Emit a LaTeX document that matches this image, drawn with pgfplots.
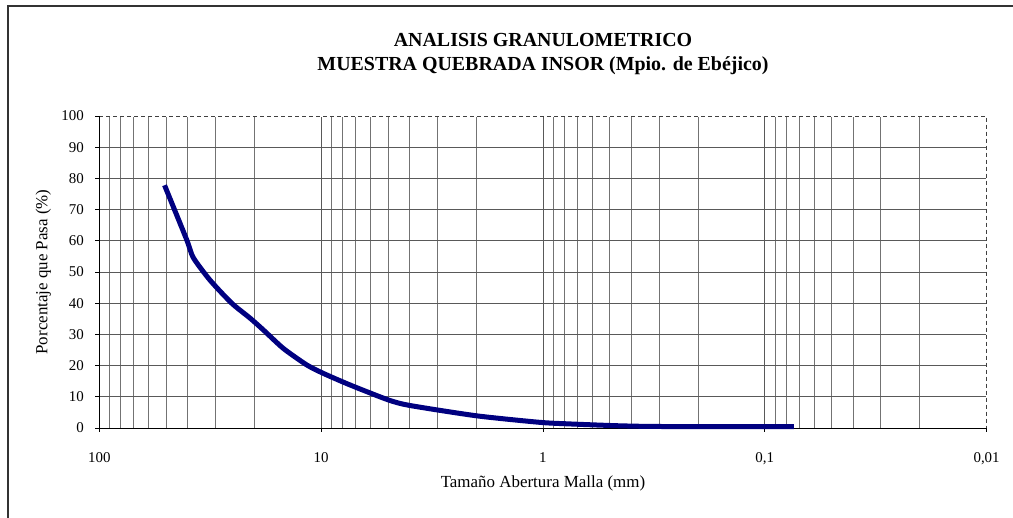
\documentclass[border=0pt]{standalone}
\usepackage{fontspec}
\setmainfont{Liberation Serif}
\usepackage{pgfplots}
\pgfplotsset{compat=1.18}
\definecolor{curve}{RGB}{0,0,128}
\begin{document}
\begin{tikzpicture}[x=1bp,y=1bp]
\useasboundingbox (0,0) rectangle (1013,518);
\draw[line width=1.3bp, black!80] (8,-2) -- (8,512) -- (1015,512);
\node[font=\bfseries\fontsize{20}{25}\selectfont, align=center] at (543,464) {ANALISIS GRANULOMETRICO\\MUESTRA QUEBRADA INSOR (Mpio. de Ebéjico)};
\begin{axis}[
  at={(99.3bp,90bp)}, anchor=south west, scale only axis,
  width=887.3bp, height=312bp,
  xmode=log, x dir=reverse, xmin=0.01, xmax=100, ymin=0, ymax=100,
  xtick={0.01,0.1,1,10,100}, xticklabels={{0,01},{0,1},1,10,100},
  ytick={0,10,...,100},
  xtick pos=bottom, ytick pos=left,
  tick align=outside, major tick length=4bp, minor tick length=0pt,
  tick style={black, line width=0.8bp},
  xmajorgrids=true, xminorgrids=true, ymajorgrids=true,
  major grid style={black!65, line width=0.8bp},
  minor grid style={black!55, line width=0.8bp},
  axis line style={draw=none},
  /pgf/number format/assume math mode=true,
  ticklabel style={font=\fontsize{15}{17}\selectfont},
  xticklabel shift=17bp,
  yticklabel shift=8bp,
  label style={font=\fontsize{17}{19}\selectfont},
  xlabel={Tamaño Abertura Malla (mm)},
  ylabel={Porcentaje que Pasa (\%)},
  xlabel style={at={(axis description cs:0.5,-0.178)}, anchor=center},
  ylabel style={at={(axis description cs:-0.063,0.5)}, anchor=center},
  clip=false,
]
\draw[white, line width=1.2bp] (rel axis cs:0,1) -- (rel axis cs:1,1) -- (rel axis cs:1,0);
\draw[black!75, line width=0.9bp, dash pattern=on 4bp off 3bp] (rel axis cs:0,1) -- (rel axis cs:1,1) -- (rel axis cs:1,0);
\draw[black, line width=0.9bp] (rel axis cs:0,1) -- (rel axis cs:0,0) -- (rel axis cs:1,0);
\addplot[curve, line width=5bp, smooth, tension=0.4, line cap=butt] table {
x y
50.8 77.8
40.4 60.4
37.7 54.6
31.7 47.4
25.3 40.0
20.9 35.2
18.2 31.4
14.8 25.5
11.6 20.2
9.77 17.5
7.41 13.8
4.98 9.0
3.97 7.2
1.99 3.9
1.03 1.8
0.755 1.3
0.593 1.0
0.45 0.7
0.329 0.5
0.2 0.45
0.074 0.4
};
\end{axis}
\end{tikzpicture}
\end{document}
